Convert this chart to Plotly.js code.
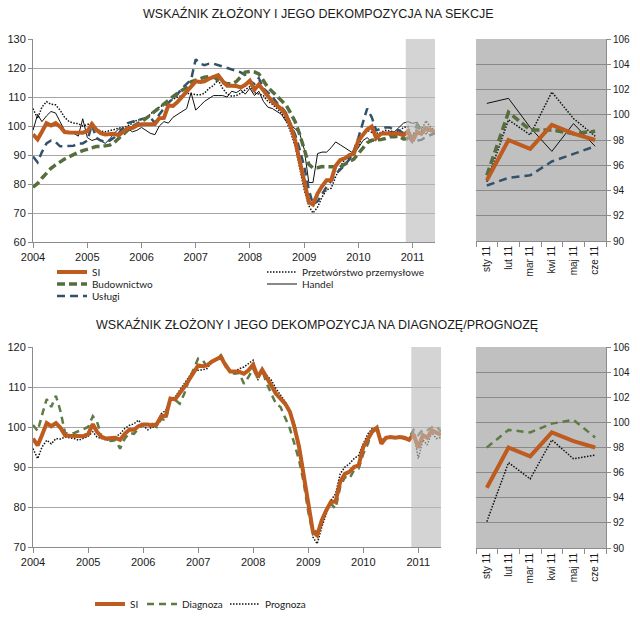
<!DOCTYPE html>
<html><head><meta charset="utf-8">
<script src="https://cdn.plot.ly/plotly-3.0.1.min.js"></script>
<style>html,body{margin:0;padding:0;background:#fff;}#chart{width:640px;height:629px;}</style>
</head><body><div id="chart"></div>
<script>
// ---- data ----
const startYear = 2004;
const nMonths = 90; // Jan 2004 .. Jun 2011
const months = [];
for (let i = 0; i < nMonths; i++) {
  const y = startYear + Math.floor(i / 12), mo = (i % 12) + 1;
  months.push(y + '-' + String(mo).padStart(2, '0') + '-01');
}
const yearTicks = ['2004-01-01','2005-01-01','2006-01-01','2007-01-01','2008-01-01','2009-01-01','2010-01-01','2011-01-01'];
const yearLabels = ['2004','2005','2006','2007','2008','2009','2010','2011'];
const zoomCats = ['sty 11','lut 11','mar 11','kwi 11','maj 11','cze 11'];

const SI = [97.1,95.4,98,101,100.2,101,99.8,97.9,97.8,97.8,97.7,97.7,
  98.2,100.7,98.8,97.5,97.1,97.1,97.3,96.8,98.3,99.3,99.3,100.2,
  100.6,100.6,100.4,100.7,102.7,102.8,107.1,106.9,108.3,110,111.8,113.5,
  115.4,115.2,115.4,116.3,117,117.5,115.5,113.9,113.9,113.8,113.3,114.2,
  115.6,112.5,114.3,112.1,110.4,108.3,107.1,105.8,103.8,100,95,88.3,
  80,73.8,72.9,76.7,79.2,81.3,81.3,86.3,88.3,88.8,90,90.4,
  95,97.1,98.8,99.8,95.8,97.3,97.5,97.3,97.5,97.3,96.8,98.2,
  94.8,98,97.3,99.2,98.5,98];
const budownictwo = [78.9,80.2,82,83.7,85.4,86.6,87.7,88.6,89.4,90.3,90.9,91.5,
  92,92.6,92.9,92.9,93.2,93.4,94.3,95.7,97.5,98.6,99.8,100.6,
  101.5,102.6,103.8,104.9,106.4,107.8,109,110.1,111.3,112.2,113.3,115.3,
  115.9,116.4,116.8,117,117,115.8,115,114.6,114.6,115.3,117,118.6,
  118.8,118.6,118,115.5,113.3,111.8,110.2,108.7,107.2,104.5,101.5,97.2,
  91.5,86.8,85.5,85.6,86,86,86,86,85.9,86.8,87.8,88.6,
  90.5,92.5,94.2,95.1,95.1,95.3,95.7,96.3,96.3,96.5,95.5,95.6,
  95.2,100.2,98.8,98.8,98.5,98.7];
const uslugi = [89.5,87.5,91,94,95,94.5,93,93,93,93.2,94,94,
  95,100.5,96,95,94.5,95,96,97.5,99.5,101,101.5,102,
  102.5,102.8,103,101,104,106,108,109.5,111,113,114.5,116,
  123,121.5,121,121.5,121.5,121,120.5,120,119.5,118.8,118.5,117.5,
  115.5,114.5,116.5,113,111.5,110,108,106.5,104.5,101,97,92,
  86,78,73,74,76.5,79,81,83.5,85,86.5,88.5,91.5,
  96,101,106,103,98.5,99,99.5,99.5,98.5,98.5,97.5,96.5,
  94.4,95,95.2,96.3,96.9,97.5];
const przetworstwo = [106,102.6,106.5,108.4,107.5,107.3,105.5,103,101.5,101,100.8,100,
  100.5,101,99,98.3,98,98.3,98.8,99.3,99.5,100,101,102,
  102.3,102.8,104,105.5,106.5,107.5,108.4,109.2,110,110.5,111.3,111,
  110.8,110.8,111.3,113,114,115.9,113,111,110.3,110.5,111.3,112.5,
  113.6,111.5,111,110.5,108.5,107.5,106,104.5,102,98,93,86,
  78,72.5,70,72,75.5,78,78.5,82.5,86,88.5,89,90.6,
  93,97,98.5,97.8,97.5,97.8,98.5,98.3,98,98.2,99.5,99.8,
  94.7,99.6,98.4,101.8,99.7,98.3];
const handel = [98.5,104,101.5,103.5,105,104.5,101.5,98.5,97.5,97.5,96.5,102.5,
  96,95,95.5,95,94,95.5,97.5,99,98.5,99,98,98.5,
  99.5,98.5,97.5,97,100,101.5,101,103,104,105,106,111.5,
  105.5,107,108.5,109.5,110.5,110.5,110.5,110,112,111.5,112.5,111,
  113,110.5,112,108.5,106.5,106,105,104,101.5,100.5,99,97.5,
  92,80.5,80.5,90.5,91,91,92.5,94.5,93.5,92.5,91.5,90.5,
  92.5,95,96,94.5,95.5,97.5,97.5,98,98,99.5,101,101.5,
  100.9,101.3,99.0,97.1,99.3,97.5];
const diagnoza = [100.5,99,103,107,105,107.8,104,98.5,98.3,98.5,99,99.5,
  100,102.7,101.3,97.5,97,96.5,96.7,94.6,97.1,98.5,98.3,99.6,
  100.5,100.5,100.8,100,102,101.7,107.1,106.8,105.8,108.3,111.7,114.6,
  117.1,116.7,115,116.3,116.8,118,116,113.8,113.3,113.5,110.8,112.5,
  114.6,112.1,114.2,110.8,108.3,105.8,105,102.5,99.6,95.8,91.7,86.3,
  78.8,73.3,74.2,76.3,79.2,80.8,79.6,85,87.5,87.1,89.2,89.6,
  93.3,95.8,99.2,100,96.3,97.5,97.5,97.3,97.5,97.1,97.3,99.3,
  98,99.4,99.2,99.9,100.2,98.8];
const prognoza = [94.6,92.1,95,96.7,95.8,97.1,97,97.5,97.3,97.1,96.7,97.1,
  97.7,98.8,97.5,97.1,96.8,96.7,97.5,98.3,99.6,100.4,100.8,101.7,
  100.4,99.3,100,100,103.3,104.2,107.1,107.5,109.2,110.8,112.5,114.2,
  114.2,114.3,114.6,116.3,117.1,117.5,115,113.8,113.8,114.6,115,115.8,
  116.7,111.7,114.2,112.9,111.7,109.6,107.9,106.3,104.2,100.8,95.8,89.2,
  80.8,72.5,70.8,75,78.3,81.7,83.3,88.3,90,90.8,92.1,92.9,
  95.8,98.3,99.6,100,96.7,97.3,97.5,97.3,97.3,97.1,96.7,98.8,
  92.1,96.8,95.5,98.6,97.1,97.4];
const bandStart = '2010-11-16';
const bandEnd = '2011-06-01';

// ---- styles ----
const C_SI = '#BE5B1E', C_BUD = '#566E3D', C_USL = '#31526A', C_DIAG = '#5E7B45', C_BLK = '#111';
const sty = {
  SI:   {color: C_SI, width: 4},
  bud:  {color: C_BUD, width: 3.5, dash: '8px,4px'},
  usl:  {color: C_USL, width: 2.5, dash: '8px,5px'},
  prz:  {color: C_BLK, width: 1.5, dash: '1.5px,1.5px'},
  han:  {color: C_BLK, width: 1},
  diag: {color: C_DIAG, width: 2.5, dash: '7px,5px'},
  prog: {color: C_BLK, width: 1.5, dash: '1.5px,1.5px'}
};
const last6 = a => a.slice(nMonths - 6);

function tr(x, y, name, line, xa, ya, legend, show) {
  return {type: 'scatter', mode: 'lines', x: x, y: y, name: name, line: line,
    xaxis: xa, yaxis: ya, legend: legend, showlegend: show, hoverinfo: 'skip'};
}

const traces = [
  // top-left
  tr(months, handel, 'Handel', sty.han, 'x', 'y', 'legend5', true),
  tr(months, przetworstwo, 'Przetwórstwo przemysłowe', sty.prz, 'x', 'y', 'legend4', true),
  tr(months, uslugi, 'Usługi', sty.usl, 'x', 'y', 'legend3', true),
  tr(months, budownictwo, 'Budownictwo', sty.bud, 'x', 'y', 'legend2', true),
  tr(months, SI, 'SI', sty.SI, 'x', 'y', 'legend', true),
  // top-right
  tr(zoomCats, last6(handel), 'Handel', sty.han, 'x2', 'y2', 'legend', false),
  tr(zoomCats, last6(przetworstwo), 'Przetwórstwo przemysłowe', sty.prz, 'x2', 'y2', 'legend', false),
  tr(zoomCats, last6(uslugi), 'Usługi', sty.usl, 'x2', 'y2', 'legend', false),
  tr(zoomCats, last6(budownictwo), 'Budownictwo', sty.bud, 'x2', 'y2', 'legend', false),
  tr(zoomCats, last6(SI), 'SI', sty.SI, 'x2', 'y2', 'legend', false),
  // bottom-left
  tr(months, prognoza, 'Prognoza', sty.prog, 'x3', 'y3', 'legend8', true),
  tr(months, diagnoza, 'Diagnoza', sty.diag, 'x3', 'y3', 'legend7', true),
  tr(months, SI, 'SI', sty.SI, 'x3', 'y3', 'legend6', true),
  // bottom-right
  tr(zoomCats, last6(prognoza), 'Prognoza', sty.prog, 'x4', 'y4', 'legend', false),
  tr(zoomCats, last6(diagnoza), 'Diagnoza', sty.diag, 'x4', 'y4', 'legend', false),
  tr(zoomCats, last6(SI), 'SI', sty.SI, 'x4', 'y4', 'legend', false)
];

const W = 640, H = 629;
const px = v => v / W, py = v => 1 - v / H;
const tickFont = {family: 'Liberation Sans, Arial, sans-serif', size: 11, color: '#1a1a1a'};
const axLine = '#8c8c8c';

function dateX(dom, anchor) {
  return {type: 'date', domain: dom, anchor: anchor, range: ['2004-01-01', bandEnd],
    tickvals: yearTicks, ticktext: yearLabels, ticks: 'outside', ticklen: 5, tickcolor: axLine,
    showline: true, linecolor: axLine, linewidth: 1, showgrid: false, zeroline: false,
    tickfont: tickFont, fixedrange: true};
}
function leftY(dom, anchor, r) {
  return {domain: dom, anchor: anchor, range: r, dtick: 10, gridcolor: '#a6a6a6', gridwidth: 1,
    showline: true, linecolor: axLine, ticks: 'outside', ticklen: 4, tickcolor: axLine,
    zeroline: false, tickfont: tickFont, fixedrange: true};
}
function catX(dom, anchor) {
  return {type: 'category', domain: dom, anchor: anchor, range: [-0.5, 5.5],
    categoryorder: 'array', categoryarray: zoomCats, tickangle: -90, ticks: 'outside',
    tickson: 'boundaries', ticklen: 5, tickcolor: axLine, showline: true, linecolor: axLine,
    showgrid: false, zeroline: false, tickfont: {family: tickFont.family, size: 10, color: '#1a1a1a'},
    fixedrange: true};
}
function rightY(dom, anchor) {
  return {domain: dom, anchor: anchor, side: 'right', range: [90, 106], dtick: 2,
    gridcolor: '#8a8a8a', showline: true, linecolor: axLine, ticks: 'outside', ticklen: 4,
    tickcolor: axLine, zeroline: false, tickfont: {family: tickFont.family, size: 10, color: '#1a1a1a'},
    fixedrange: true};
}

const legFont = {family: 'Lato, Open Sans, sans-serif', size: 10, color: '#222'};
function leg(lineStartPx, centerYPx) {
  return {x: px(lineStartPx - 3), y: py(centerYPx), xanchor: 'left', yanchor: 'middle',
    orientation: 'h', font: legFont, bgcolor: 'rgba(0,0,0,0)', itemwidth: 30};
}
const titleFont = {family: 'Liberation Sans, Arial, sans-serif', size: 12.5, color: '#1a1a1a'};

const layout = {
  width: W, height: H, margin: {l: 0, r: 0, t: 0, b: 0},
  paper_bgcolor: '#fff', plot_bgcolor: 'rgba(0,0,0,0)',
  xaxis: dateX([px(33), px(435)], 'y'),
  yaxis: leftY([py(242), py(39)], 'x', [60, 130]),
  xaxis2: catX([px(476), px(606)], 'y2'),
  yaxis2: rightY([py(241), py(39)], 'x2'),
  xaxis3: dateX([px(33), px(441)], 'y3'),
  yaxis3: leftY([py(547), py(347)], 'x3', [70, 120]),
  xaxis4: catX([px(476), px(606)], 'y4'),
  yaxis4: rightY([py(548), py(347)], 'x4'),
  legend: leg(55, 272),
  legend2: leg(55, 284),
  legend3: leg(55, 296),
  legend4: leg(265, 272),
  legend5: leg(265, 284),
  legend6: leg(93, 604),
  legend7: leg(145, 604),
  legend8: leg(228, 604),
  shapes: [
    {type: 'rect', xref: 'x2 domain', yref: 'y2 domain', x0: 0, x1: 1, y0: 0, y1: 1,
      fillcolor: '#c0c0c0', line: {width: 0}, layer: 'below'},
    {type: 'rect', xref: 'x4 domain', yref: 'y4 domain', x0: 0, x1: 1, y0: 0, y1: 1,
      fillcolor: '#c0c0c0', line: {width: 0}, layer: 'below'},
    {type: 'rect', xref: 'x', yref: 'y domain', x0: bandStart, x1: bandEnd, y0: 0, y1: 1,
      fillcolor: 'rgba(185,185,185,0.62)', line: {width: 0}, layer: 'above'},
    {type: 'rect', xref: 'x3', yref: 'y3 domain', x0: bandStart, x1: bandEnd, y0: 0, y1: 1,
      fillcolor: 'rgba(185,185,185,0.62)', line: {width: 0}, layer: 'above'}
  ],
  annotations: [
    {text: 'WSKAŹNIK ZŁOŻONY I JEGO DEKOMPOZYCJA NA SEKCJE', xref: 'paper', yref: 'paper',
      x: px(318), y: py(13), xanchor: 'center', yanchor: 'middle', showarrow: false, font: titleFont},
    {text: 'WSKAŹNIK ZŁOŻONY I JEGO DEKOMPOZYCJA NA DIAGNOZĘ/PROGNOZĘ', xref: 'paper', yref: 'paper',
      x: px(317), y: py(324), xanchor: 'center', yanchor: 'middle', showarrow: false, font: titleFont}
  ]
};

Plotly.newPlot('chart', traces, layout, {displayModeBar: false, staticPlot: true});
</script></body></html>
